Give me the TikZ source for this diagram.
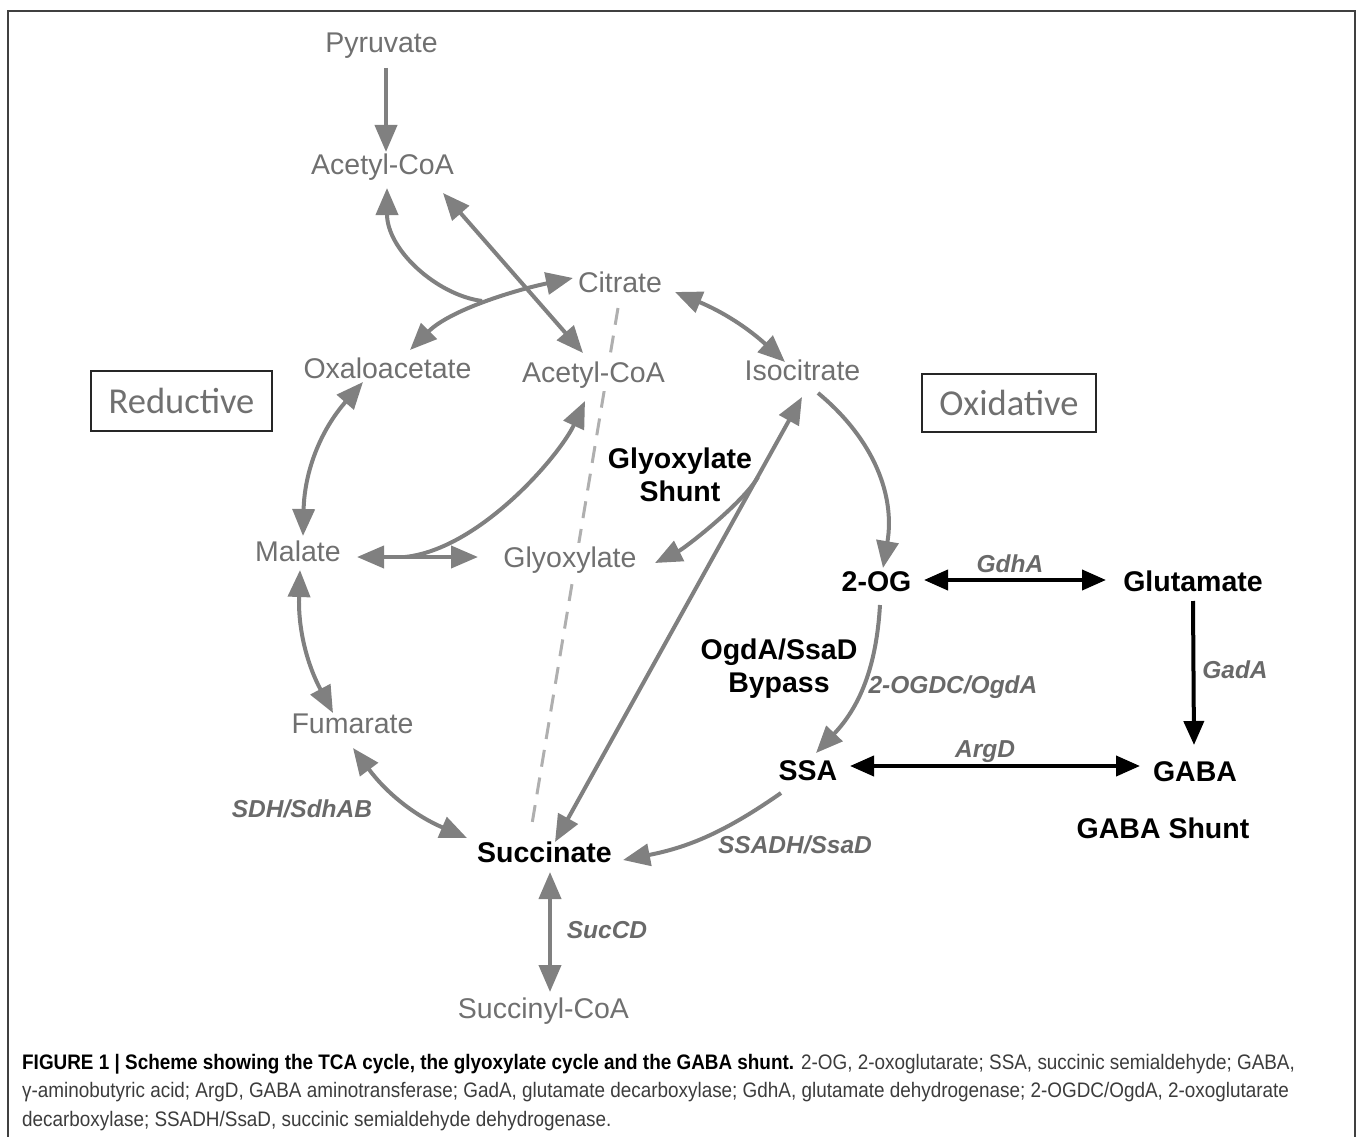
\documentclass[tikz,border=0pt]{standalone}
\usepackage{fontspec}
\setmainfont{Liberation Sans}
\newfontfamily\calib{Carlito}
\newfontfamily\capfam[FakeStretch=0.9]{Liberation Sans}
\usetikzlibrary{arrows.meta,calc}
\definecolor{tgray}{RGB}{112,112,112}
\definecolor{agray}{RGB}{128,128,128}
\definecolor{egray}{RGB}{105,105,105}
\definecolor{dgray}{RGB}{175,175,175}
\definecolor{cgray}{RGB}{60,60,60}
\newcommand\mymetf{\fontsize{28.5}{33}\selectfont}
\newcommand\myenzf{\fontsize{24.5}{29}\selectfont\bfseries\itshape}
\newcommand\mycapf{\capfam\fontsize{21}{28.5}\selectfont}
\tikzset{
  met/.style={font=\mymetf, text=tgray, anchor=base, inner sep=0pt},
  bmet/.style={font=\mymetf\bfseries, text=black, anchor=base, inner sep=0pt},
  enz/.style={font=\myenzf, text=egray, anchor=base, inner sep=0pt},
  capline/.style={font=\mycapf, text=cgray, anchor=base west, inner sep=0pt},
  sidebox/.style={draw=black!85, line width=1.8pt, font=\calib\fontsize{36.5}{40}\selectfont, text=tgray, anchor=center, inner sep=0pt},
  gtip/.tip={Triangle[length=27pt,width=22pt]},
  btip/.tip={Triangle[length=24pt,width=20pt]},
  garr/.style={draw=agray, line width=4pt, -gtip},
  gdarr/.style={draw=agray, line width=4pt, gtip-gtip},
  barr/.style={draw=black, line width=4pt, -btip},
  bdarr/.style={draw=black, line width=4pt, btip-btip},
  dline/.style={draw=dgray, line width=3pt, dash pattern=on 17pt off 11pt},
  frameline/.style={draw=black!75, line width=2pt}
}
\begin{document}
\begin{tikzpicture}[x=1pt,y=-1pt]
\useasboundingbox (0,0) rectangle (1358,1137);
% frame
\coordinate (fbl) at (8,1137);
\coordinate (ftl) at (8,11);
\coordinate (ftr) at (1355,11);
\coordinate (fbr) at (1355,1137);
\draw[frameline] (fbl) -- (ftl) -- (ftr) -- (fbr);
% dashed line (behind text)
\coordinate (dtop) at (618,308);
\coordinate (dbot) at (532,824);
\draw[dline] (dtop) -- (dbot);
% metabolites
\node[met] (pyr) at (381.5,53) {Pyruvate};
\node[met] (acoa1) at (382.5,175) {Acetyl-CoA};
\node[met] (cit) at (620,292) {Citrate};
\node[met] (ox) at (387.5,378) {Oxaloacetate};
\node[met, fill=white, inner sep=3pt] (acoa2) at (593.5,382) {Acetyl-CoA};
\node[met] (iso) at (802.5,380) {Isocitrate};
\node[met] (mal) at (298,561) {Malate};
\node[met, fill=white, inner sep=3pt] (glx) at (570,567) {Glyoxylate};
\node[met] (fum) at (352.5,733) {Fumarate};
\node[bmet] (suc) at (544.5,862) {Succinate};
\node[met] (sucoa) at (543.5,1018) {Succinyl-CoA};
\node[bmet] (og) at (876.5,591) {2-OG};
\node[bmet] (glu) at (1193,591) {Glutamate};
\node[bmet] (ssa) at (808,780) {SSA};
\node[bmet] (gaba) at (1195,781) {GABA};
% titles
\node[bmet, anchor=center, align=center] (gshunt) at (680,474.5) {Glyoxylate\\Shunt};
\node[bmet, anchor=center, align=center] (bypass) at (779,669) {OgdA/SsaD\\Bypass};
\node[bmet] (gabash) at (1163,838) {GABA Shunt};
\node[sidebox, minimum width=181pt, minimum height=60pt] (red) at (181.5,401) {Reductive};
\node[sidebox, minimum width=174pt, minimum height=58pt] (oxi) at (1009,403) {Oxidative};
% enzymes
\node[enz] (gdha) at (1010,572) {GdhA};
\node[enz] (ogdc) at (953,693) {2-OGDC/OgdA};
\node[enz] (gada) at (1235,678) {GadA};
\node[enz] (argd) at (985,757) {ArgD};
\node[enz] (sdh) at (302,817) {SDH/SdhAB};
\node[enz] (ssadh) at (795,853) {SSADH/SsaD};
\node[enz] (succd) at (607,938) {SucCD};
% junction coordinates
\coordinate (junc1) at (482,301);
\coordinate (junc2) at (758,477);
\coordinate (junc3) at (405,557);
% gray connectors
\draw[garr] ($(pyr.base)+(4.5,15)$) -- ($(acoa1.base)+(3.5,-23)$);
\draw[gdarr] ($(ox.base)+(22.5,-28)$) .. controls +(40,-40) and +(-58,12) .. ($(cit.base)+(-47,-14)$);
\draw[garr] (junc1) .. controls +(-45,-6) and +(0,62) .. ($(acoa1.base)+(4.5,13)$);
\draw[gdarr] ($(acoa1.base)+(60.5,18)$) -- ($(acoa2.base)+(-10.5,-29)$);
\draw[gdarr] ($(cit.base)+(55,0)$) to[bend left=10] ($(iso.base)+(-17.5,-18)$);
\draw[garr] ($(iso.base)+(15.5,13)$) to[bend left=30] ($(og.base)+(6.5,-23)$);
\draw[gdarr] ($(suc.base)+(10.5,-20)$) -- ($(iso.base)+(-0.5,17)$);
\draw[garr] (junc2) .. controls +(-15,26) and +(30,-15) .. ($(glx.base)+(85,-4)$);
\draw[gdarr] ($(mal.base)+(5,-25)$) to[bend left=20] ($(ox.base)+(-24.5,4)$);
\draw[gdarr] ($(mal.base)+(2,9)$) to[bend right=15] ($(fum.base)+(-19.5,-20)$);
\draw[gdarr] ($(mal.base)+(59,-4)$) -- ($(glx.base)+(-92,-10)$);
\draw[garr] (junc3) .. controls +(75,-8) and +(-25,54) .. ($(acoa2.base)+(-8.5,19)$);
\draw[gdarr] ($(fum.base)+(0.5,15)$) to[bend right=15] ($(suc.base)+(-77.5,-24)$);
\draw[gdarr] ($(suc.base)+(5.5,10)$) -- ($(sucoa.base)+(6.5,-26)$);
\draw[garr] ($(og.base)+(3.5,14)$) to[bend left=20] ($(ssa.base)+(8,-27)$);
\draw[garr] ($(ssa.base)+(-27,13)$) to[bend left=12] ($(suc.base)+(78.5,-2)$);
% black connectors
\draw[bdarr] ($(og.base)+(47.5,-11)$) -- ($(glu.base)+(-87,-11)$);
\draw[barr] ($(glu.base)+(0,10)$) -- ($(gaba.base)+(-1,-36)$);
\draw[bdarr] ($(ssa.base)+(42,-14)$) -- ($(gaba.base)+(-55,-15)$);
% caption
\node[capline] (cap1) at (22,1069) {{\bfseries\color{black}FIGURE 1 | Scheme showing the TCA cycle, the glyoxylate cycle and the GABA shunt.} 2-OG, 2-oxoglutarate; SSA, succinic semialdehyde; GABA,};
\node[capline] (cap2) at (22,1097) {γ-aminobutyric acid; ArgD, GABA aminotransferase; GadA, glutamate decarboxylase; GdhA, glutamate dehydrogenase; 2-OGDC/OgdA, 2-oxoglutarate};
\node[capline] (cap3) at (22,1126) {decarboxylase; SSADH/SsaD, succinic semialdehyde dehydrogenase.};
\end{tikzpicture}
\end{document}
